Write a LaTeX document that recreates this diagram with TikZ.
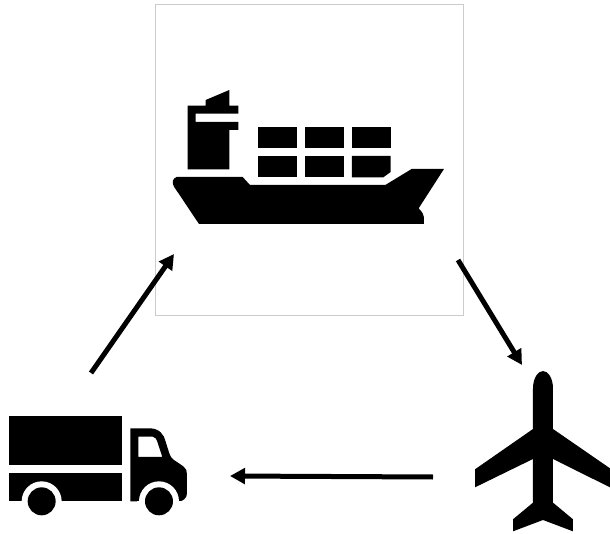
\documentclass[tikz,border=0pt]{standalone}
\usetikzlibrary{arrows.meta}
\tikzset{
  icon/.style={fill=black,draw=none},
  flow/.style={draw=black,line width=5pt,-{Triangle[length=15pt,width=15.5pt]}},
  panel/.style={draw=black!20,line width=0.8pt,fill=white,minimum width=308pt,minimum height=311pt,inner sep=0pt,anchor=north west}
}
\begin{document}
\begin{tikzpicture}[x=1pt,y=-1pt]
\useasboundingbox (0,0) rectangle (610,534);
\node[panel] (panel) at (155,4) {};
% ship
\begin{scope}[shift={(150,70)},x=0.3333pt,y=-0.3333pt]
\fill[icon] (113,107)--(167,107)--(167,90)--(238,60)--(238,107)--(265,107)--(265,131)--(137,131)--(137,156)--(265,156)--(265,180)--(238,180)--(238,298)--(113,298)--cycle;
\fill[icon] (80,321)--(278,321)--(300,345)--(706,345)--(785,297)--(882,297)--(806,415) .. controls (815,425) and (822,432) .. (822,442)--(822,462)--(147,462)--(72,350) .. controls (66,340) and (66,325) .. (80,321)--cycle;
\foreach \xa/\xb in {323/440,464/582,606/722} \fill[icon] (\xa,172) rectangle (\xb,234);
\foreach \xa/\xb in {323/440,464/582} \fill[icon] (\xa,258) rectangle (\xb,322);
\fill[icon] (606,258)--(722,258)--(722,306)--(700,322)--(606,322)--cycle;
\end{scope}
% truck
\begin{scope}[shift={(0,400)},x=0.3333pt,y=-0.3333pt]
\fill[icon] (28,49) rectangle (367,195);
\fill[icon] (28,219) rectangle (367,304);
\fill[icon,even odd rule] (391,85)--(450,85) .. controls (478,85) and (493,105) .. (497,125)--(508,160) .. controls (511,170) and (515,175) .. (522,180)--(550,199) .. controls (558,205) and (561,212) .. (561,222)--(561,280) .. controls (561,293) and (550,304) .. (537,304)--(391,304)--cycle
 (415,110)--(458,110) .. controls (466,110) and (470,118) .. (472,125)--(487,171)--(415,171)--cycle;
\fill[white] (125,304) circle[radius=60];
\fill[white] (477,304) circle[radius=60];
\fill[white] (60,304) rectangle (190,340);
\fill[white] (412,304) rectangle (542,340);
\fill[icon] (125,304) circle[radius=42];
\fill[icon] (477,304) circle[radius=42];
\end{scope}
% plane
\begin{scope}[shift={(460,360)},x=0.3333pt,y=-0.3333pt]
\fill[icon] (219,207)--(219,85) .. controls (219,55) and (234,33) .. (249,33) .. controls (264,33) and (279,55) .. (279,85)--(279,207)--(450,325)--(450,382)--(279,297)--(279,428)--(339,478)--(339,514)--(249,480)--(159,514)--(159,478)--(219,428)--(219,297)--(45,382)--(45,328)--cycle;
\end{scope}
\coordinate (a1) at (91,373);
\coordinate (a2) at (174,254);
\coordinate (b1) at (458,260);
\coordinate (b2) at (522,365);
\coordinate (c1) at (433,477);
\coordinate (c2) at (230,476);
\draw[flow] (a1) -- (a2);
\draw[flow] (b1) -- (b2);
\draw[flow] (c1) -- (c2);
\end{tikzpicture}
\end{document}
